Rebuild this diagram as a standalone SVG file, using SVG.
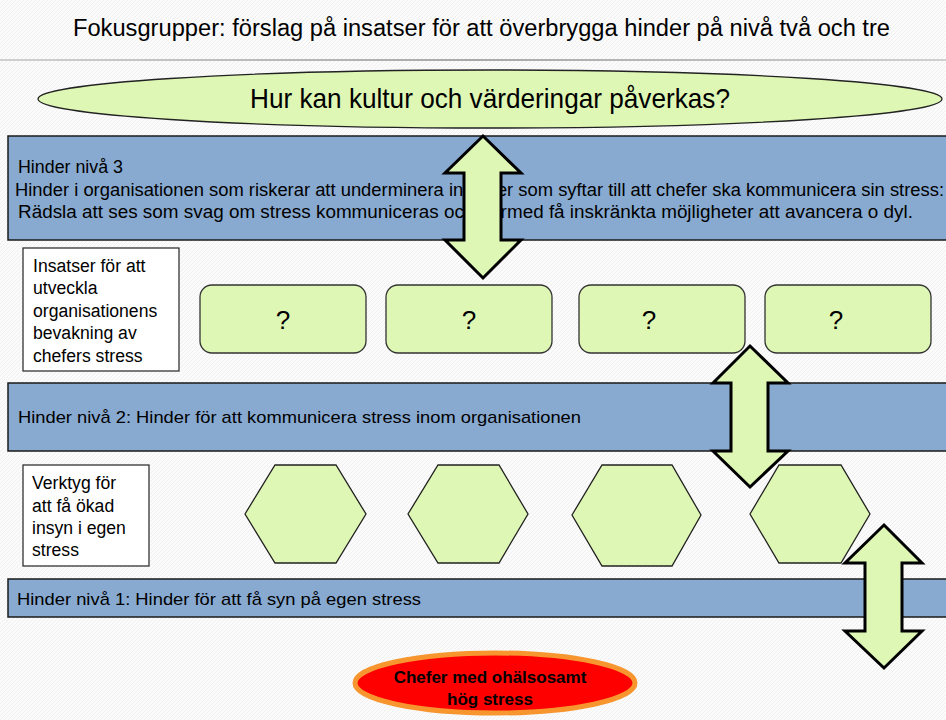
<svg xmlns="http://www.w3.org/2000/svg" width="946" height="720" viewBox="0 0 946 720">
<defs>
<pattern id="bgp" width="4" height="4" patternUnits="userSpaceOnUse">
<rect width="4" height="4" fill="#fbfbfb"/>
<path d="M0 4 L4 0" stroke="#eeeeee" stroke-width="0.8"/>
</pattern>
<linearGradient id="rule" x1="0" y1="0" x2="1" y2="0">
<stop offset="0" stop-color="#d0d0d0"/>
<stop offset="0.5" stop-color="#a8a8a8"/>
<stop offset="1" stop-color="#d0d0d0"/>
</linearGradient>
</defs>
<style>
text{font-family:"Liberation Sans",Arial,sans-serif;fill:#000}
.band{fill:#88aad0;stroke:#1a1a1a;stroke-width:1.5}
.box{fill:#ffffff;stroke:#333;stroke-width:1.3}
.rbox{fill:#dff7b4;stroke:#333;stroke-width:1.3}
.hex{fill:#dff7b4;stroke:#222;stroke-width:1.3}
.arrow{fill:#dff7b4;stroke:#000;stroke-width:3;stroke-linejoin:miter}
.b3{font-size:17.5px}
.b{font-size:17px}
.t17{font-size:17.6px}
.q{font-size:26px;text-anchor:middle}
</style>
<rect width="946" height="720" fill="url(#bgp)"/>
<g id="title">
<text x="73" y="36" font-size="23" textLength="817" lengthAdjust="spacingAndGlyphs">Fokusgrupper: förslag på insatser för att överbrygga hinder på nivå två och tre</text>
<rect x="0" y="59" width="946" height="2" fill="url(#rule)"/>
</g>
<g id="question">
<ellipse cx="490" cy="99" rx="452" ry="29" fill="#dff7b4" stroke="#222" stroke-width="1.3"/>
<text x="250" y="108" font-size="28" textLength="480" lengthAdjust="spacingAndGlyphs">Hur kan kultur och värderingar påverkas?</text>
</g>
<g id="level3">
<rect class="band" x="8" y="136" width="945" height="104"/>
<text class="b3" x="18" y="173" textLength="105" lengthAdjust="spacingAndGlyphs">Hinder nivå 3</text>
<text class="b3" x="15" y="196" textLength="929" lengthAdjust="spacingAndGlyphs">Hinder i organisationen som riskerar att underminera insatser som syftar till att chefer ska kommunicera sin stress:</text>
<text class="b3" x="18" y="218" textLength="895" lengthAdjust="spacingAndGlyphs">Rädsla att ses som svag om stress kommuniceras och därmed få inskränkta möjligheter att avancera o dyl.</text>
</g>
<g id="insatser">
<rect class="box" x="23" y="248" width="156" height="123"/>
<text class="t17" x="33" y="272">Insatser för att</text>
<text class="t17" x="33" y="294">utveckla</text>
<text class="t17" x="33" y="317">organisationens</text>
<text class="t17" x="33" y="339">bevakning av</text>
<text class="t17" x="33" y="362">chefers stress</text>
</g>
<g id="q1"><rect class="rbox" x="200" y="285" width="166" height="68" rx="12"/><text class="q" x="283" y="329">?</text></g>
<g id="q2"><rect class="rbox" x="386" y="285" width="166" height="68" rx="12"/><text class="q" x="469" y="329">?</text></g>
<g id="q3"><rect class="rbox" x="579" y="285" width="166" height="68" rx="12"/><text class="q" x="649" y="329">?</text></g>
<g id="q4"><rect class="rbox" x="765" y="285" width="166" height="68" rx="12"/><text class="q" x="836" y="329">?</text></g>
<g id="level2">
<rect class="band" x="8" y="383" width="945" height="68"/>
<text class="b" x="18" y="423" textLength="563" lengthAdjust="spacingAndGlyphs">Hinder nivå 2: Hinder för att kommunicera stress inom organisationen</text>
</g>
<g id="verktyg">
<rect class="box" x="23" y="465" width="126" height="101"/>
<text class="t17" x="32" y="489">Verktyg för</text>
<text class="t17" x="32" y="512">att få ökad</text>
<text class="t17" x="32" y="534">insyn i egen</text>
<text class="t17" x="32" y="556">stress</text>
</g>
<g id="hex1"><polygon class="hex" points="245,514 275,465 336,465 366,514 336,563 275,563"/></g>
<g id="hex2"><polygon class="hex" points="408,514 438,465 499,465 528,514 499,563 438,563"/></g>
<g id="hex3"><polygon class="hex" points="572,515 602,465 672,465 701,515 672,566 602,566"/></g>
<g id="hex4"><polygon class="hex" points="750,514 779,465 841,465 870,514 841,563 779,563"/></g>
<g id="level1">
<rect class="band" x="8" y="579" width="945" height="38"/>
<text class="b" x="17" y="605" textLength="404" lengthAdjust="spacingAndGlyphs">Hinder nivå 1: Hinder för att få syn på egen stress</text>
</g>
<g id="chefer">
<ellipse cx="495" cy="683" rx="140" ry="30" fill="#ff0000" stroke="#f7962f" stroke-width="5"/>
<text x="490" y="683" font-size="17" font-weight="bold" text-anchor="middle">Chefer med ohälsosamt</text>
<text x="490" y="705" font-size="17" font-weight="bold" text-anchor="middle">hög stress</text>
</g>
<g id="connectors">
<polygon class="arrow" points="483,136 521,173 501,173 501,240 521,240 483,278 445,240 464,240 464,173 445,173"/>
<polygon class="arrow" points="750,346 788,383 768,383 768,451 788,451 750,487 713,451 731,451 731,383 713,383"/>
<polygon class="arrow" points="884,525 922,563 902,563 902,631 922,631 884,668 845,631 865,631 865,563 845,563"/>
</g>
</svg>
